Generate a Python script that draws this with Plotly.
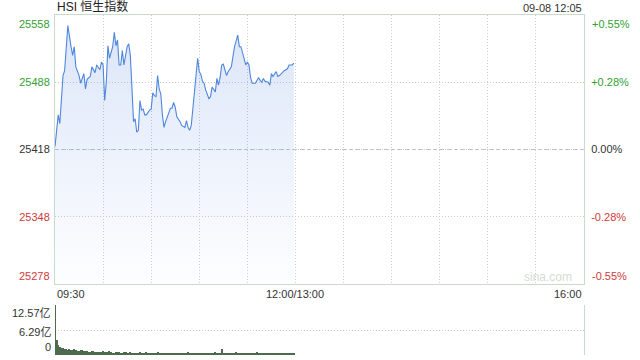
import plotly.graph_objects as go

# ---- data ----
price_minutes = [0, 2, 3, 5, 6, 8, 10, 11, 12, 13, 15, 16, 18, 19, 20, 22, 23, 25, 26, 28,
                 29, 30, 31, 32, 33, 34, 36, 37, 38, 39, 40, 41, 42, 43, 45, 46, 47, 48, 49, 50,
                 51, 52, 53, 54, 55, 56, 57, 59, 60, 61, 62, 63, 64, 65, 66, 67, 68, 69, 71, 72,
                 73, 74, 75, 76, 78, 79, 81, 82, 83, 84, 85, 87, 88, 89, 90, 91, 92, 93, 94, 96,
                 97, 98, 100, 101, 102, 103, 104, 105, 107, 108, 110, 111, 112, 114, 115, 116, 117, 118, 119, 120,
                 121, 122, 123, 125, 126, 127, 128, 129, 130, 131, 133, 134, 135, 136, 138, 139, 140, 142, 143, 145,
                 146, 148, 149]
price_values = [25421, 25454, 25445, 25495, 25500, 25547, 25525, 25516, 25525, 25504, 25495, 25487, 25497, 25481, 25491, 25494, 25504, 25498, 25506, 25501,
                25509, 25506, 25469, 25488, 25526, 25513, 25525, 25540, 25526, 25532, 25506, 25506, 25521, 25506, 25525, 25528, 25516, 25471, 25447, 25450,
                25436, 25438, 25469, 25459, 25460, 25454, 25454, 25459, 25460, 25477, 25474, 25473, 25495, 25481, 25476, 25454, 25441, 25447, 25457, 25461,
                25461, 25467, 25462, 25452, 25447, 25443, 25441, 25448, 25441, 25438, 25443, 25478, 25497, 25513, 25499, 25496, 25489, 25487, 25480, 25471,
                25473, 25483, 25478, 25492, 25485, 25493, 25506, 25507, 25495, 25499, 25504, 25516, 25525, 25537, 25525, 25525, 25518, 25514, 25506, 25509,
                25506, 25493, 25487, 25487, 25490, 25493, 25490, 25488, 25492, 25489, 25488, 25485, 25497, 25494, 25499, 25494, 25495, 25499, 25500, 25502,
                25506, 25506, 25508]

volume_minutes = list(range(150))
volume_values = [12.57, 3.85, 2.60, 2.05, 1.85, 1.70, 1.60, 1.50, 1.35, 1.40,
                 1.25, 1.20, 1.40, 1.15, 1.10, 1.00, 1.25, 1.15, 1.00, 1.05,
                 1.00, 0.85, 0.80, 1.00, 1.05, 0.70, 0.70, 0.80, 0.70, 0.75,
                 0.90, 0.75, 0.85, 0.70, 1.00, 0.75, 0.60, 0.55, 0.70, 0.85,
                 0.70, 0.55, 0.60, 0.75, 0.65, 0.50, 0.60, 0.70, 0.45, 0.55,
                 0.60, 0.45, 0.50, 0.65, 0.45, 0.50, 0.60, 0.75, 0.50, 0.45,
                 0.60, 0.50, 0.45, 0.55, 0.65, 0.50, 0.40, 0.50, 0.55, 0.40,
                 0.50, 0.60, 0.40, 0.45, 0.55, 0.40, 0.45, 0.35, 0.40, 0.45,
                 0.35, 0.40, 0.45, 0.85, 0.40, 0.35, 0.45, 0.40, 0.35, 0.40,
                 0.45, 0.35, 0.40, 0.50, 0.35, 0.40, 0.45, 0.35, 0.50, 0.40,
                 0.70, 0.45, 0.40, 0.35, 1.60, 0.45, 0.40, 0.50, 0.35, 0.45,
                 0.40, 0.55, 0.40, 0.65, 0.45, 0.40, 0.35, 0.45, 0.40, 0.35,
                 0.40, 0.35, 0.45, 0.40, 0.35, 0.40, 0.70, 0.35, 0.30, 0.35,
                 0.40, 0.30, 0.35, 0.40, 0.35, 0.30, 0.35, 0.40, 0.35, 0.30,
                 0.35, 0.40, 0.30, 0.35, 0.40, 0.35, 0.30, 0.40, 0.35, 0.30]

price_ticks = [25278, 25348, 25418, 25488, 25558]
price_tick_text = ["25278", "25348", "25418", "25488", "25558"]
pct_tick_text = ["-0.55%", "-0.28%", "0.00%", "+0.28%", "+0.55%"]
tick_colors = ["#d03a3a", "#d03a3a", "#333333", "#33a033", "#33a033"]
prev_close = 25418
time_labels = ["09:30", "12:00/13:00", "16:00"]
time_label_pos = [0, 150, 330]
vol_ticks = [0, 6.285, 12.57]
vol_tick_text = ["0", "6.29亿", "12.57亿"]

FONT = "Liberation Sans, Arial, Noto Sans CJK SC, sans-serif"
BORDER = "#c9dccb"
GRID = "#c9cdd3"
DOT = "1px,2px"

fig = go.Figure()

fig.add_trace(go.Scatter(
    x=price_minutes, y=price_values, mode="lines",
    line=dict(color="#4f86dc", width=1.1),
    fill="tozeroy",
    fillgradient=dict(type="vertical", start=price_ticks[0], stop=price_ticks[-1],
                      colorscale=[[0, "rgba(90,135,225,0.01)"], [1, "rgba(90,135,225,0.22)"]]),
    xaxis="x", yaxis="y", hoverinfo="skip", showlegend=False))

fig.add_trace(go.Bar(
    x=volume_minutes, y=volume_values, width=0.65,
    marker=dict(color="#4d6a4d", line=dict(width=0)),
    xaxis="x2", yaxis="y3", hoverinfo="skip", showlegend=False))

# dummy trace so yaxis2 is shown
fig.add_trace(go.Scatter(x=[None], y=[None], xaxis="x", yaxis="y2", showlegend=False, hoverinfo="skip"))


def colored(texts):
    out = []
    for i, (t, c) in enumerate(zip(texts, tick_colors)):
        # end labels are drawn as annotations (kept inside the panel)
        out.append("" if i in (0, len(texts) - 1) else f"<span style='color:{c}'>{t}</span>")
    return out


fig.update_layout(
    width=640, height=360,
    margin=dict(l=55, r=56, t=15, b=5, autoexpand=False),
    paper_bgcolor="white", plot_bgcolor="rgba(0,0,0,0)",
    font=dict(family=FONT, size=11, color="#333333"),
    bargap=0,
    xaxis=dict(domain=[0, 1], anchor="y", range=[0, 330], tickvals=list(range(0, 331, 30)),
               showticklabels=False, ticks="", showgrid=True, griddash=DOT, gridcolor=GRID,
               gridwidth=1, showline=True, mirror=True, linecolor=BORDER, linewidth=1,
               zeroline=False, automargin=False),
    yaxis=dict(domain=[0.2088, 1], range=[price_ticks[0], price_ticks[-1]], tickvals=price_ticks,
               ticktext=colored(price_tick_text), showgrid=True, griddash=DOT, gridcolor=GRID,
               showline=True, mirror=True, linecolor=BORDER, zeroline=False, ticks="outside",
               ticklen=2, tickcolor="rgba(0,0,0,0)", tickfont=dict(size=11), automargin=False),
    yaxis2=dict(overlaying="y", side="right", anchor="x", range=[price_ticks[0], price_ticks[-1]],
                tickvals=price_ticks, ticktext=colored(pct_tick_text), showgrid=False,
                zeroline=False, ticks="outside", ticklen=4, tickcolor="rgba(0,0,0,0)",
                tickfont=dict(size=11), automargin=False),
    xaxis2=dict(domain=[0, 1], anchor="y3", range=[0, 330], showticklabels=False, showgrid=False,
                zeroline=False, showline=False, ticks="", automargin=False),
    yaxis3=dict(domain=[0, 0.147], anchor="x2", side="right", range=[0, 12.57], tickvals=vol_ticks,
                showticklabels=False, showgrid=True, griddash=DOT, gridcolor=GRID, zeroline=False,
                showline=True, linecolor=BORDER, ticks="", automargin=False),
)

# previous close dashed line
fig.add_shape(type="line", xref="x", yref="y", x0=0, x1=330, y0=prev_close, y1=prev_close,
              line=dict(color="#b8bec6", width=1, dash="4px,3px"), layer="below")

# end labels of the price axes, kept inside the panel
for side_x, anchor_x, shift, texts in [(0, "right", -3, price_tick_text), (1, "left", 6, pct_tick_text)]:
    for i, ya in [(0, "bottom"), (len(price_ticks) - 1, "top")]:
        fig.add_annotation(xref="paper", yref="y", x=side_x, y=price_ticks[i], xanchor=anchor_x,
                           yanchor=ya, xshift=shift, yshift=(-1 if ya == "top" else 0),
                           text=texts[i], showarrow=False,
                           font=dict(size=11, color=tick_colors[i], family=FONT))

# titles
fig.add_annotation(xref="paper", yref="paper", x=0, y=1, xanchor="left", yanchor="bottom",
                   yshift=-1, text="HSI 恒生指数", showarrow=False,
                   font=dict(size=12, color="#222222", family=FONT))
fig.add_annotation(xref="paper", yref="paper", x=1, y=1, xanchor="right", yanchor="bottom",
                   yshift=-1, text="09-08 12:05", showarrow=False,
                   font=dict(size=11, color="#333333", family=FONT))
# watermark
fig.add_annotation(xref="paper", yref="y", x=1, y=price_ticks[0], xanchor="right", yanchor="bottom",
                   xshift=-10, yshift=-2, text="sina.com", showarrow=False,
                   font=dict(size=12, color="#cfe0d2", family=FONT))
# time labels
anchors = ["left", "center", "right"]
for t, p, a in zip(time_labels, time_label_pos, anchors):
    fig.add_annotation(xref="x", yref="y", x=p, y=price_ticks[0], xanchor=a, yanchor="top",
                       yshift=-2, text=t, showarrow=False,
                       font=dict(size=11, color="#333333", family=FONT))
# volume labels
vanchors = ["bottom", "middle", "top"]
vshifts = [0, -2, 0]
for v, t, a, s in zip(vol_ticks, vol_tick_text, vanchors, vshifts):
    fig.add_annotation(xref="paper", yref="y3", x=0, y=v, xanchor="right", yanchor=a,
                       xshift=-2, yshift=s, text=t, showarrow=False,
                       font=dict(size=11, color="#333333", family=FONT))

fig.write_html("out.html")
